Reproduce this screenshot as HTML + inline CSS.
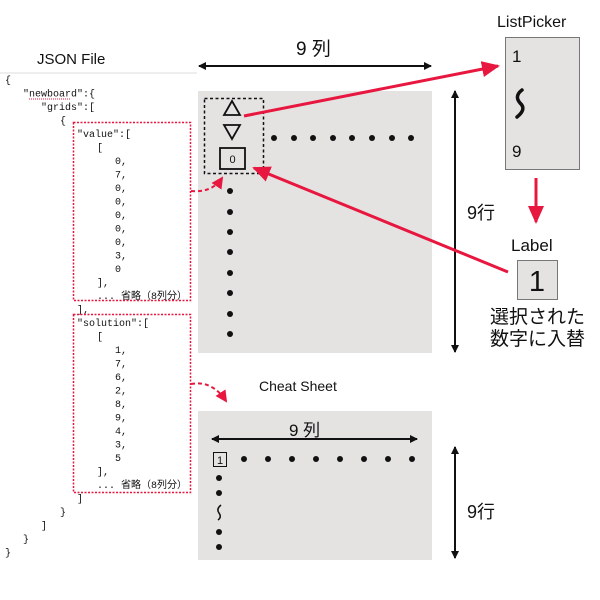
<!DOCTYPE html>
<html><head><meta charset="utf-8"><style>
html,body{margin:0;padding:0;background:#fff;}
svg{display:block}
.m{font-family:"Liberation Mono","Noto Sans CJK JP",monospace;font-size:10px;fill:#111}
.s{font-family:"Liberation Sans","Noto Sans CJK JP",sans-serif;fill:#111}
</style></head><body>
<svg width="600" height="600" viewBox="0 0 600 600" xmlns="http://www.w3.org/2000/svg">
<defs>
<marker id="ak" markerWidth="8" markerHeight="8" refX="7" refY="4" orient="auto-start-reverse" markerUnits="userSpaceOnUse"><path d="M0,0 L8,4 L0,8 Z" fill="#111"/></marker>
<marker id="ar" markerWidth="18" markerHeight="16" refX="16" refY="8" orient="auto" markerUnits="userSpaceOnUse"><path d="M0,0 L18,8 L0,16 Z" fill="#e8173f"/></marker>
<marker id="ars" markerWidth="12" markerHeight="12" refX="10" refY="6" orient="auto" markerUnits="userSpaceOnUse"><path d="M0,0 L12,6 L0,12 Z" fill="#e8173f"/></marker>
</defs>
<!-- JSON -->
<text x="37" y="64" class="s" font-size="15">JSON File</text>
<line x1="0" y1="73" x2="197" y2="73" stroke="#eee" stroke-width="2"/>
<g class="m">
<text x="5" y="83">{</text>
<text x="23" y="96.5">"newboard":{</text>
<line x1="29" y1="99" x2="71" y2="99" stroke="#e8173f" stroke-dasharray="1,1"/>
<text x="41" y="110">"grids":[</text>
<text x="60" y="123.5">{</text>
<text x="77" y="137">"value":[</text>
<text x="97" y="150.5">[</text>
<text x="115" y="164">0,</text><text x="115" y="177.5">7,</text><text x="115" y="191">0,</text><text x="115" y="204.5">0,</text><text x="115" y="218">0,</text><text x="115" y="231.5">0,</text><text x="115" y="245">0,</text><text x="115" y="258.5">3,</text><text x="115" y="272">0</text>
<text x="97" y="285.5">],</text>
<text x="97" y="299">...  省略（8列分）</text>
<text x="77" y="312.5">],</text>
<text x="77" y="326">"solution":[</text>
<text x="97" y="339.5">[</text>
<text x="115" y="353">1,</text><text x="115" y="366.5">7,</text><text x="115" y="380">6,</text><text x="115" y="393.5">2,</text><text x="115" y="407">8,</text><text x="115" y="420.5">9,</text><text x="115" y="434">4,</text><text x="115" y="447.5">3,</text><text x="115" y="461">5</text>
<text x="97" y="474.5">],</text>
<text x="97" y="488">...  省略（8列分）</text>
<text x="77" y="501.5">]</text>
<text x="60" y="515">}</text>
<text x="41" y="528.5">]</text>
<text x="23" y="542">}</text>
<text x="5" y="555.5">}</text>
</g>
<rect x="73.5" y="122.5" width="117" height="178" fill="none" stroke="#e8173f" stroke-width="1.5" stroke-dasharray="2,1.5"/>
<rect x="73.5" y="314.5" width="117" height="178" fill="none" stroke="#e8173f" stroke-width="1.5" stroke-dasharray="2,1.5"/>
<!-- main grid -->
<text x="296" y="55" class="s" font-size="19">9 列</text>
<line x1="199" y1="66" x2="431" y2="66" stroke="#111" stroke-width="2" marker-start="url(#ak)" marker-end="url(#ak)"/>
<rect x="198" y="91" width="234" height="262" fill="#e4e3e2"/>
<rect x="204.5" y="98.5" width="59" height="75" fill="none" stroke="#111" stroke-width="1.5" stroke-dasharray="3,2.5"/>
<path d="M224,115 L232,101 L240,115 Z" fill="none" stroke="#111" stroke-width="1.8"/>
<path d="M224,125 L232,139 L240,125 Z" fill="none" stroke="#111" stroke-width="1.8"/>
<rect x="220" y="148" width="25" height="21" fill="#e4e3e2" stroke="#111" stroke-width="1.8"/>
<text x="232.5" y="163" class="s" font-size="11" text-anchor="middle">0</text>
<g fill="#111">
<circle cx="274" cy="138" r="3"/><circle cx="294" cy="138" r="3"/><circle cx="313" cy="138" r="3"/><circle cx="333" cy="138" r="3"/><circle cx="352" cy="138" r="3"/><circle cx="372" cy="138" r="3"/><circle cx="392" cy="138" r="3"/><circle cx="411" cy="138" r="3"/>
<circle cx="230" cy="191" r="3"/><circle cx="230" cy="212" r="3"/><circle cx="230" cy="232" r="3"/><circle cx="230" cy="252" r="3"/><circle cx="230" cy="273" r="3"/><circle cx="230" cy="293" r="3"/><circle cx="230" cy="314" r="3"/><circle cx="230" cy="334" r="3"/>
</g>
<line x1="455" y1="91" x2="455" y2="352" stroke="#111" stroke-width="2" marker-start="url(#ak)" marker-end="url(#ak)"/>
<text x="467" y="219" class="s" font-size="18">9行</text>
<!-- ListPicker -->
<text x="497" y="27" class="s" font-size="16">ListPicker</text>
<rect x="505.5" y="37.5" width="74" height="132" fill="#e4e3e2" stroke="#777"/>
<text x="512" y="62" class="s" font-size="17">1</text>
<path d="M522,90 Q514,96 520,103 Q527,109 517,117" fill="none" stroke="#111" stroke-width="3.5" stroke-linecap="round"/>
<text x="512" y="157" class="s" font-size="17">9</text>
<line x1="536" y1="178" x2="536" y2="222" stroke="#e8173f" stroke-width="3" marker-end="url(#ar)"/>
<!-- Label -->
<text x="511" y="251" class="s" font-size="17">Label</text>
<rect x="517.5" y="260.5" width="40" height="39" fill="#e4e3e2" stroke="#777"/>
<text x="537" y="291" class="s" font-size="29" text-anchor="middle">1</text>
<text x="490" y="323" class="s" font-size="19">選択された</text>
<text x="490" y="345" class="s" font-size="19">数字に入替</text>
<!-- red arrows -->
<line x1="244" y1="116" x2="498" y2="66" stroke="#e8173f" stroke-width="3" marker-end="url(#ar)"/>
<line x1="508" y1="272" x2="254" y2="168" stroke="#e8173f" stroke-width="3" marker-end="url(#ar)"/>
<!-- Cheat sheet -->
<text x="259" y="391" class="s" font-size="14">Cheat Sheet</text>
<rect x="198" y="411" width="234" height="149" fill="#e4e3e2"/>
<text x="289" y="436" class="s" font-size="17">9 列</text>
<line x1="212" y1="439" x2="417" y2="439" stroke="#111" stroke-width="2" marker-start="url(#ak)" marker-end="url(#ak)"/>
<rect x="213.5" y="452.5" width="13" height="14" fill="none" stroke="#111"/>
<text x="220" y="464" class="s" font-size="11" text-anchor="middle">1</text>
<g fill="#111">
<circle cx="244" cy="459" r="3"/><circle cx="268" cy="459" r="3"/><circle cx="292" cy="459" r="3"/><circle cx="316" cy="459" r="3"/><circle cx="340" cy="459" r="3"/><circle cx="364" cy="459" r="3"/><circle cx="388" cy="459" r="3"/><circle cx="412" cy="459" r="3"/>
<circle cx="219" cy="478" r="3"/><circle cx="219" cy="493" r="3"/><circle cx="219" cy="532" r="3"/><circle cx="219" cy="547" r="3"/>
</g>
<path d="M221,505 Q216,509 219,513 Q222,517 218,520" fill="none" stroke="#111" stroke-width="1.5"/>
<line x1="455" y1="447" x2="455" y2="558" stroke="#111" stroke-width="2" marker-start="url(#ak)" marker-end="url(#ak)"/>
<text x="467" y="518" class="s" font-size="18">9行</text>
<!-- dashed curves on top -->
<path d="M191,191 Q212,193 222,178" fill="none" stroke="#e8173f" stroke-width="2" stroke-dasharray="4,3" marker-end="url(#ars)"/>
<path d="M191,384 Q212,380 226,401" fill="none" stroke="#e8173f" stroke-width="2" stroke-dasharray="4,3" marker-end="url(#ars)"/>
</svg>
</body></html>
